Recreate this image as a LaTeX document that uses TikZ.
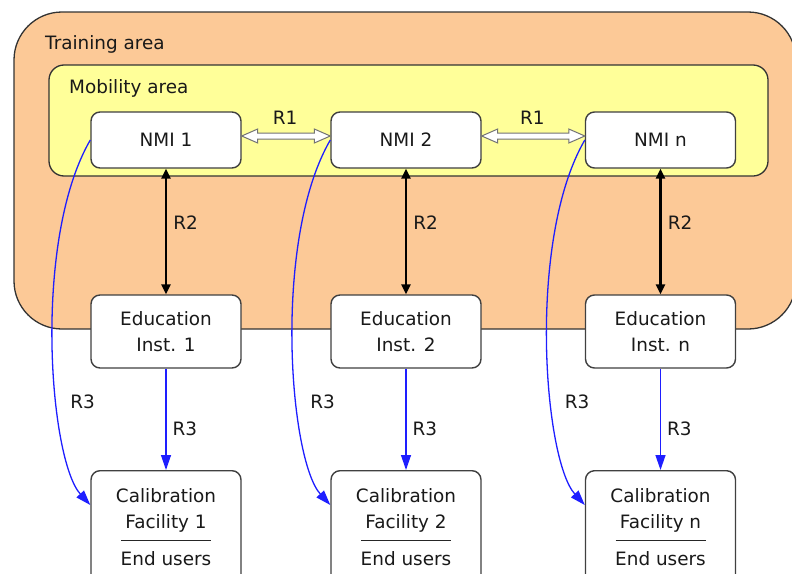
\documentclass[tikz,border=0pt]{standalone}
\usepackage{fontspec}
\setmainfont{DejaVu Sans}
\usetikzlibrary{arrows.meta,calc}
\definecolor{trainfill}{RGB}{252,201,151}
\definecolor{mobfill}{RGB}{255,255,153}
\definecolor{linkblue}{RGB}{30,30,255}
\begin{document}
\begin{tikzpicture}[x=1pt,y=-1pt,
  every node/.style={font=\fontsize{18.4}{26.5}\selectfont, text=black!90},
  area/.style={draw=black!80, line width=1.3pt},
  box/.style={draw=black!75, line width=1.4pt, fill=white, rounded corners=9pt,
    minimum width=150pt, align=center, inner sep=0pt},
  nmibox/.style={box, minimum height=56pt},
  edubox/.style={box, minimum height=73pt},
  calbox/.style={box, anchor=north, minimum height=113pt},
  hollowlink/.style={draw=black!55, fill=white, line width=1pt, line join=miter},
  r2link/.style={draw=black, line width=2.8pt,
    {Triangle[length=10pt,width=9pt]}-{Triangle[length=10pt,width=9pt]}},
  r3link/.style={draw=linkblue, line width=1.3pt, -{Triangle[length=15pt,width=10pt]}},
  linklabel/.style={anchor=west, inner sep=6pt}
]
\useasboundingbox (0,0) rectangle (792,573);

% containers
\draw[area, fill=trainfill, rounded corners=48pt] (14,12) rectangle (796,329);
\node[anchor=base west, inner sep=0pt] (training) at (45,49) {Training area};
\draw[area, fill=mobfill, rounded corners=15pt] (49,65) rectangle (768,176);
\node[anchor=base west, inner sep=0pt] (mobility) at (69,93) {Mobility area};

% boxes
\node[nmibox] (n1) at (166,140) {NMI 1};
\node[nmibox] (n2) at (406,140) {NMI 2};
\node[nmibox] (nn) at (660.5,140) {NMI n};

\node[edubox] (e1) at (166,331.5) {Education\\Inst. 1};
\node[edubox] (e2) at (406,331.5) {Education\\Inst. 2};
\node[edubox] (en) at (660.5,331.5) {Education\\Inst. n};

\node[calbox] (c1) at (166,470) {Calibration\\Facility 1\\[10.5pt]End users};
\node[calbox] (c2) at (406,470) {Calibration\\Facility 2\\[10.5pt]End users};
\node[calbox] (cn) at (660.5,470) {Calibration\\Facility n\\[10.5pt]End users};
\foreach \c in {c1,c2,cn}
  \draw[black!85, line width=1pt] ($(\c.north)+(-45,70)$) -- ($(\c.north)+(45,70)$);

% R1: hollow double arrows between neighbouring NMIs
\foreach \a/\b/\lab in {n1/n2/r1a, n2/nn/r1b}{
  \coordinate (\a s) at ($(\a.east)+(0,-4)$);
  \coordinate (\b t) at ($(\b.west)+(0,-4)$);
  \draw[hollowlink] (\a s) -- ($(\a s)+(16,-7)$) -- ($(\a s)+(16,-3)$)
    -- ($(\b t)+(-16,-3)$) -- ($(\b t)+(-16,-7)$) -- (\b t)
    -- ($(\b t)+(-16,7)$) -- ($(\b t)+(-16,3)$) -- ($(\a s)+(16,3)$)
    -- ($(\a s)+(16,7)$) -- cycle;
  \node (\lab) at ($(\a s)!0.5!(\b t)+(-1,-18)$) {R1};
}

% R2: NMI <-> education institute
\draw[r2link] (n1.south) -- node[linklabel, pos=0.43] {R2} (e1.north);
\draw[r2link] (n2.south) -- node[linklabel, pos=0.43] {R2} (e2.north);
\draw[r2link] (nn.south) -- node[linklabel, pos=0.43] {R2} (en.north);

% R3: education institute -> calibration facility
\draw[r3link] (e1.south) -- node[linklabel, pos=0.59] {R3} (c1.north);
\draw[r3link] (e2.south) -- node[linklabel, pos=0.59] {R3} (c2.north);
\draw[r3link] (en.south) -- node[linklabel, pos=0.59] {R3} (cn.north);

% R3: NMI -> calibration facility directly
\foreach \n/\c in {n1/c1, n2/c2, nn/cn}{
  \coordinate (\c in) at ($(\c.north west)+(0,35)$);
  \draw[r3link] (\n.west) .. controls +(-58,100) and +(-41,-45) .. (\c in)
    node[linklabel, pos=0.64, xshift=6pt] {R3};
}
\end{tikzpicture}
\end{document}
